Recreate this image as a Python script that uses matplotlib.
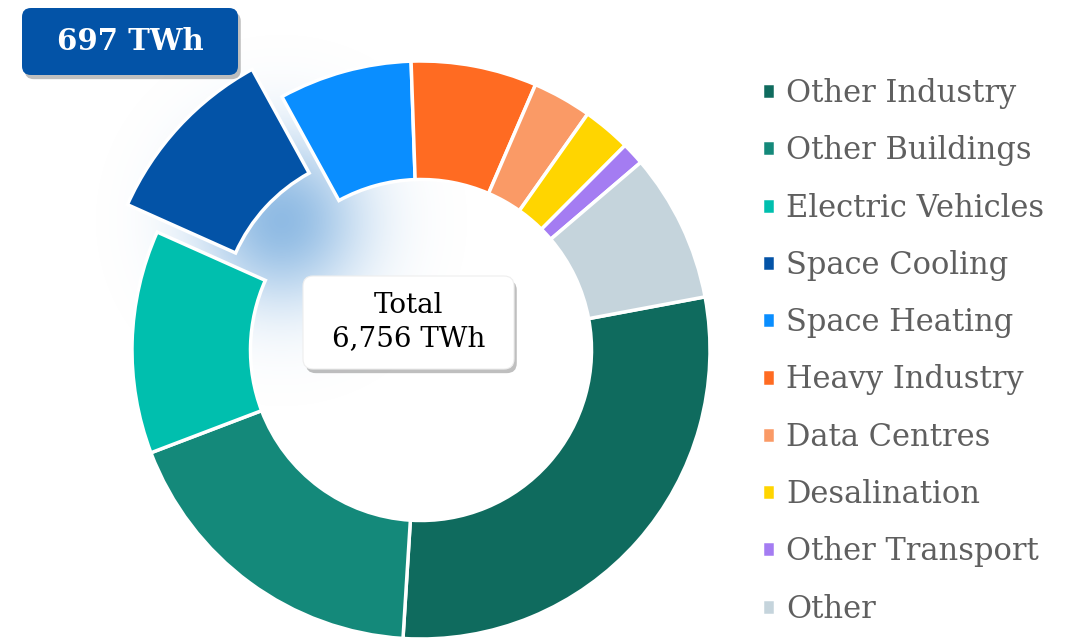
import matplotlib
matplotlib.use("Agg")
import matplotlib.pyplot as plt
import matplotlib.patheffects as pe
import numpy as np
from matplotlib.patches import FancyBboxPatch
from matplotlib.transforms import IdentityTransform

# electricity demand by end use, TWh
categories = ["Other Industry", "Other Buildings", "Electric Vehicles", "Space Cooling",
              "Space Heating", "Heavy Industry", "Data Centres", "Desalination",
              "Other Transport", "Other"]
values = [1955, 1231, 843, 697, 503, 475, 223, 182, 86, 561]
colors = ["#0f6b5e", "#14897a", "#00bfae", "#0353a7", "#0a8eff",
          "#ff6b22", "#fa9a66", "#ffd500", "#a47cf2", "#c5d4dc"]
highlight = "Space Cooling"
total_label = "Total\n6,756 TWh"

plt.rcParams["font.family"] = "DejaVu Serif"

W, H = 1066, 639
fig = plt.figure(figsize=(W / 100, H / 100), dpi=100)

# pie geometry in pixels
R_PX = 289
cx, cy = 421, H - 350
S = 3 * R_PX
ax = fig.add_axes([(cx - S / 2) / W, (cy - S / 2) / H, S / W, S / H])

start = 10.6
hi = categories.index(highlight)
explode = [0.14 if i == hi else 0 for i in range(len(values))]

wedges, _ = ax.pie(values, colors=colors, startangle=start, counterclock=False,
                   explode=explode, radius=1,
                   wedgeprops=dict(width=0.41, edgecolor="white", linewidth=2.5))

# soft blue glow behind the highlighted slice
total = sum(values)
before = sum(values[:hi])
mid = np.deg2rad(start - 360 * (before + values[hi] / 2) / total)
gx = np.linspace(-1.5, 1.5, 500)
X, Y = np.meshgrid(gx, gx)
d2 = (X - 0.66 * np.cos(mid)) ** 2 + (Y - 0.66 * np.sin(mid)) ** 2
alpha = 0.7 * np.exp(-d2 / (2 * 0.2 ** 2))
rgba = np.zeros(X.shape + (4,))
rgba[..., 0], rgba[..., 1], rgba[..., 2] = 0.38, 0.62, 0.85
rgba[..., 3] = alpha
ax.imshow(rgba, extent=(-1.5, 1.5, -1.5, 1.5), origin="lower", zorder=0,
          interpolation="bilinear")

ax.set_xlim(-1.5, 1.5)
ax.set_ylim(-1.5, 1.5)
ax.set_aspect("equal")
ax.axis("off")

shadow = [pe.SimplePatchShadow(offset=(2, -3), shadow_rgbFace="black", alpha=0.25), pe.Normal()]

# highlighted value box
box1 = FancyBboxPatch((22, H - 75), 216, 67, boxstyle="round,pad=0,rounding_size=9",
                      fc="#0353a7", ec="none", transform=IdentityTransform())
box1.set_path_effects(shadow)
fig.add_artist(box1)
fig.text(130 / W, 1 - 42 / H, f"{values[hi]} TWh", color="white", fontsize=21,
         fontweight="bold", ha="center", va="center")

# total box in the centre
box2 = FancyBboxPatch((303, H - 369), 211, 93, boxstyle="round,pad=0,rounding_size=10",
                      fc="white", ec="#eeeeee", lw=0.8, transform=IdentityTransform())
box2.set_path_effects(shadow)
fig.add_artist(box2)
fig.text(409 / W, 1 - 322 / H, total_label, color="black", fontsize=20,
         ha="center", va="center", linespacing=1.3)

fig.legend(wedges, categories, loc="upper left", bbox_to_anchor=(762 / W, 1 - 78 / H),
           frameon=False, fontsize=22, labelcolor="#5f5f5f", handlelength=0.43,
           handleheight=0.43, handletextpad=0.35, labelspacing=0.86,
           borderpad=0, borderaxespad=0)

fig.savefig("out.png", dpi=100)
